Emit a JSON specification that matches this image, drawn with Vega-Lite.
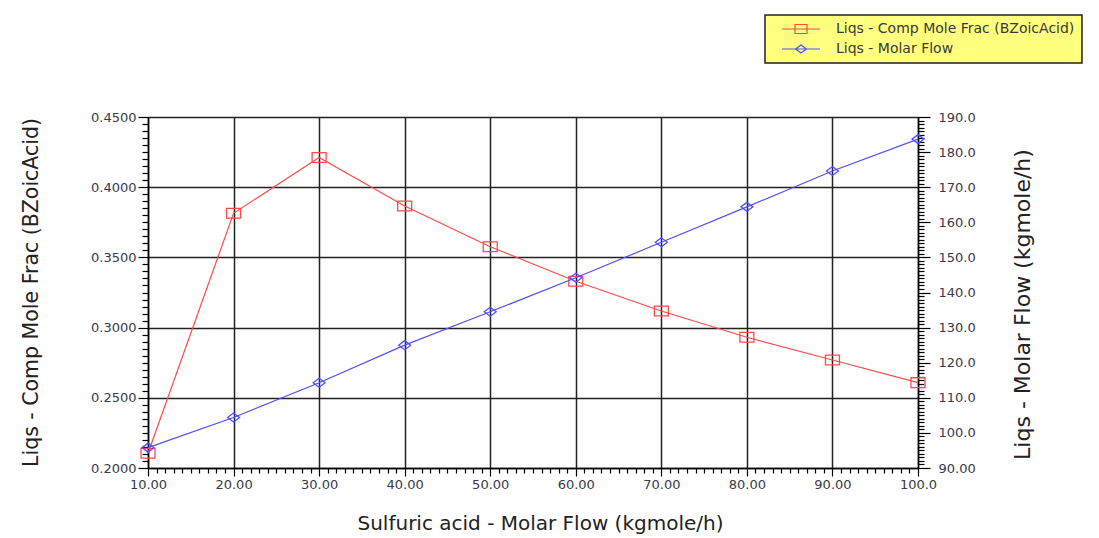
{
  "$schema": "https://vega.github.io/schema/vega-lite/v6.json",
  "width": 770,
  "height": 351,
  "autosize": {"type": "none"},
  "padding": {"left": 148, "top": 117, "right": 181, "bottom": 70},
  "background": "white",
  "data": {
    "values": [
      {"flow": 10, "frac": 0.2105, "molar": 95.8},
      {"flow": 20, "frac": 0.3814, "molar": 104.4},
      {"flow": 30, "frac": 0.4212, "molar": 114.3},
      {"flow": 40, "frac": 0.3866, "molar": 125.0},
      {"flow": 50, "frac": 0.3576, "molar": 134.5},
      {"flow": 60, "frac": 0.3330, "molar": 144.2},
      {"flow": 70, "frac": 0.3118, "molar": 154.3},
      {"flow": 80, "frac": 0.2931, "molar": 164.4},
      {"flow": 90, "frac": 0.2769, "molar": 174.6},
      {"flow": 100, "frac": 0.2608, "molar": 183.7}
    ]
  },
  "config": {
    "view": {"stroke": null},
    "axis": {
      "labelFont": "DejaVu Sans",
      "labelFontSize": 13,
      "labelColor": "#3a3a48",
      "titleFont": "DejaVu Sans",
      "titleFontSize": 20,
      "titleFontWeight": "normal",
      "titleColor": "#222222",
      "domainColor": "#000000",
      "domainWidth": 1.5,
      "tickColor": "#000000",
      "tickWidth": 1.2,
      "tickCount": 500
    }
  },
  "resolve": {"scale": {"y": "independent"}},
  "layer": [
    {
      "layer": [
        {
          "mark": {"type": "line", "strokeWidth": 1.2},
          "encoding": {
            "x": {
              "field": "flow",
              "type": "quantitative",
              "scale": {"domain": [10, 100], "nice": false, "zero": false},
              "axis": {
                "title": "Sulfuric acid - Molar Flow (kgmole/h)",
                "titleX": 392,
                "titleY": 55,
                "titleBaseline": "middle",
                "titleAnchor": "middle",
                "tickCount": 500,
                "values": [10,11,12,13,14,15,16,17,18,19,20,21,22,23,24,25,26,27,28,29,30,31,32,33,34,35,36,37,38,39,40,41,42,43,44,45,46,47,48,49,50,51,52,53,54,55,56,57,58,59,60,61,62,63,64,65,66,67,68,69,70,71,72,73,74,75,76,77,78,79,80,81,82,83,84,85,86,87,88,89,90,91,92,93,94,95,96,97,98,99,100],
                "labelExpr": "datum.value % 10 === 0 ? (datum.value < 100 ? format(datum.value, '.2f') : format(datum.value, '.1f')) : ''",
                "labelOverlap": false,
                "labelFlush": false,
                "labelPadding": 2,
                "grid": true,
                "gridColor": "#222222",
                "gridWidth": 1.5,
                "gridOpacity": {"condition": {"test": "datum.value % 10 === 0", "value": 1}, "value": 0},
                "tickSize": {"condition": {"test": "datum.value % 10 === 0", "value": 8}, "value": 5}
              }
            },
            "y": {
              "field": "frac",
              "type": "quantitative",
              "scale": {"domain": [0.2, 0.45], "nice": false, "zero": false},
              "axis": {
                "title": "Liqs - Comp Mole Frac (BZoicAcid)",
                "titleAngle": 270,
                "titleX": -117,
                "titleY": 175,
                "titleFontSize": 20.5,
                "titleBaseline": "middle",
                "titleAnchor": "middle",
                "tickCount": 500,
                "values": [0.2,0.205,0.21,0.215,0.22,0.225,0.23,0.235,0.24,0.245,0.25,0.255,0.26,0.265,0.27,0.275,0.28,0.285,0.29,0.295,0.3,0.305,0.31,0.315,0.32,0.325,0.33,0.335,0.34,0.345,0.35,0.355,0.36,0.365,0.37,0.375,0.38,0.385,0.39,0.395,0.4,0.405,0.41,0.415,0.42,0.425,0.43,0.435,0.44,0.445,0.45],
                "labelExpr": "abs(datum.value * 20 - round(datum.value * 20)) < 1e-6 ? format(datum.value, '.4f') : ''",
                "labelOverlap": false,
                "labelFlush": false,
                "labelPadding": 2,
                "grid": true,
                "gridColor": "#222222",
                "gridWidth": 1.5,
                "gridOpacity": {"condition": {"test": "abs(datum.value * 20 - round(datum.value * 20)) < 1e-6", "value": 1}, "value": 0},
                "tickSize": {"condition": {"test": "abs(datum.value * 20 - round(datum.value * 20)) < 1e-6", "value": 10}, "value": 6}
              }
            },
            "color": {
              "datum": "Liqs - Comp Mole Frac (BZoicAcid)",
              "type": "nominal",
              "scale": {
                "domain": ["Liqs - Comp Mole Frac (BZoicAcid)", "Liqs - Molar Flow"],
                "range": ["#ff4a4a", "#5050ff"]
              },
              "legend": {
                "title": null,
                "orient": "none",
                "legendX": 617,
                "legendY": -102,
                "fillColor": "#ffff80",
                "strokeColor": "#222222",
                "padding": 7,
                "symbolOffset": 22,
                "symbolSize": 100,
                "symbolStrokeWidth": 1,
                "labelFont": "DejaVu Sans",
                "labelFontSize": 14,
                "labelColor": "#3a3a30",
                "labelOffset": 28,
                "rowPadding": 6,
                "labelLimit": 400,
                "encode": {
                  "legend": {
                    "update": {
                      "strokeWidth": {"value": 1.5}
                    }
                  },
                  "symbols": {
                    "update": {
                      "shape": {"signal": "datum.value === 'Liqs - Molar Flow' ? 'M-3.8,0H3.8M0,-0.8L1.1,0L0,0.8L-1.1,0Z' : 'M-3.8,0H3.8M-1.2,-0.9H1.2V0.9H-1.2Z'"},
                      "fill": {"value": "transparent"},
                      "strokeWidth": {"value": 1.2}
                    }
                  }
                }
              }
            }
          }
        },
        {
          "mark": {"type": "point", "shape": "M-1,-0.7H1V0.7H-1Z", "size": 196, "filled": false, "color": "#ff4a4a", "strokeWidth": 1.3, "opacity": 1},
          "encoding": {
            "x": {"field": "flow", "type": "quantitative"},
            "y": {"field": "frac", "type": "quantitative"}
          }
        }
      ]
    },
    {
      "layer": [
        {
          "mark": {"type": "line", "strokeWidth": 1.2},
          "encoding": {
            "x": {"field": "flow", "type": "quantitative"},
            "y": {
              "field": "molar",
              "type": "quantitative",
              "scale": {"domain": [90, 190], "nice": false, "zero": false},
              "axis": {
                "orient": "right",
                "title": "Liqs - Molar Flow (kgmole/h)",
                "titleAngle": 270,
                "titleX": 104,
                "titleY": 187,
                "titleFontSize": 22,
                "titleBaseline": "middle",
                "titleAnchor": "middle",
                "tickCount": 500,
                "values": [90,91,92,93,94,95,96,97,98,99,100,101,102,103,104,105,106,107,108,109,110,111,112,113,114,115,116,117,118,119,120,121,122,123,124,125,126,127,128,129,130,131,132,133,134,135,136,137,138,139,140,141,142,143,144,145,146,147,148,149,150,151,152,153,154,155,156,157,158,159,160,161,162,163,164,165,166,167,168,169,170,171,172,173,174,175,176,177,178,179,180,181,182,183,184,185,186,187,188,189,190],
                "labelExpr": "datum.value % 10 === 0 ? (datum.value < 100 ? format(datum.value, '.2f') : format(datum.value, '.1f')) : ''",
                "labelOverlap": false,
                "labelFlush": false,
                "labelPadding": 8,
                "grid": false,
                "tickSize": {"condition": {"test": "datum.value % 10 === 0", "value": 12}, "value": 6}
              }
            },
            "color": {"datum": "Liqs - Molar Flow", "type": "nominal"}
          }
        },
        {
          "mark": {"type": "point", "shape": "M-1,0L0,-0.75L1,0L0,0.75Z", "size": 144, "filled": false, "color": "#5050ff", "strokeWidth": 1.3, "opacity": 1},
          "encoding": {
            "x": {"field": "flow", "type": "quantitative"},
            "y": {"field": "molar", "type": "quantitative"}
          }
        }
      ]
    }
  ]
}
